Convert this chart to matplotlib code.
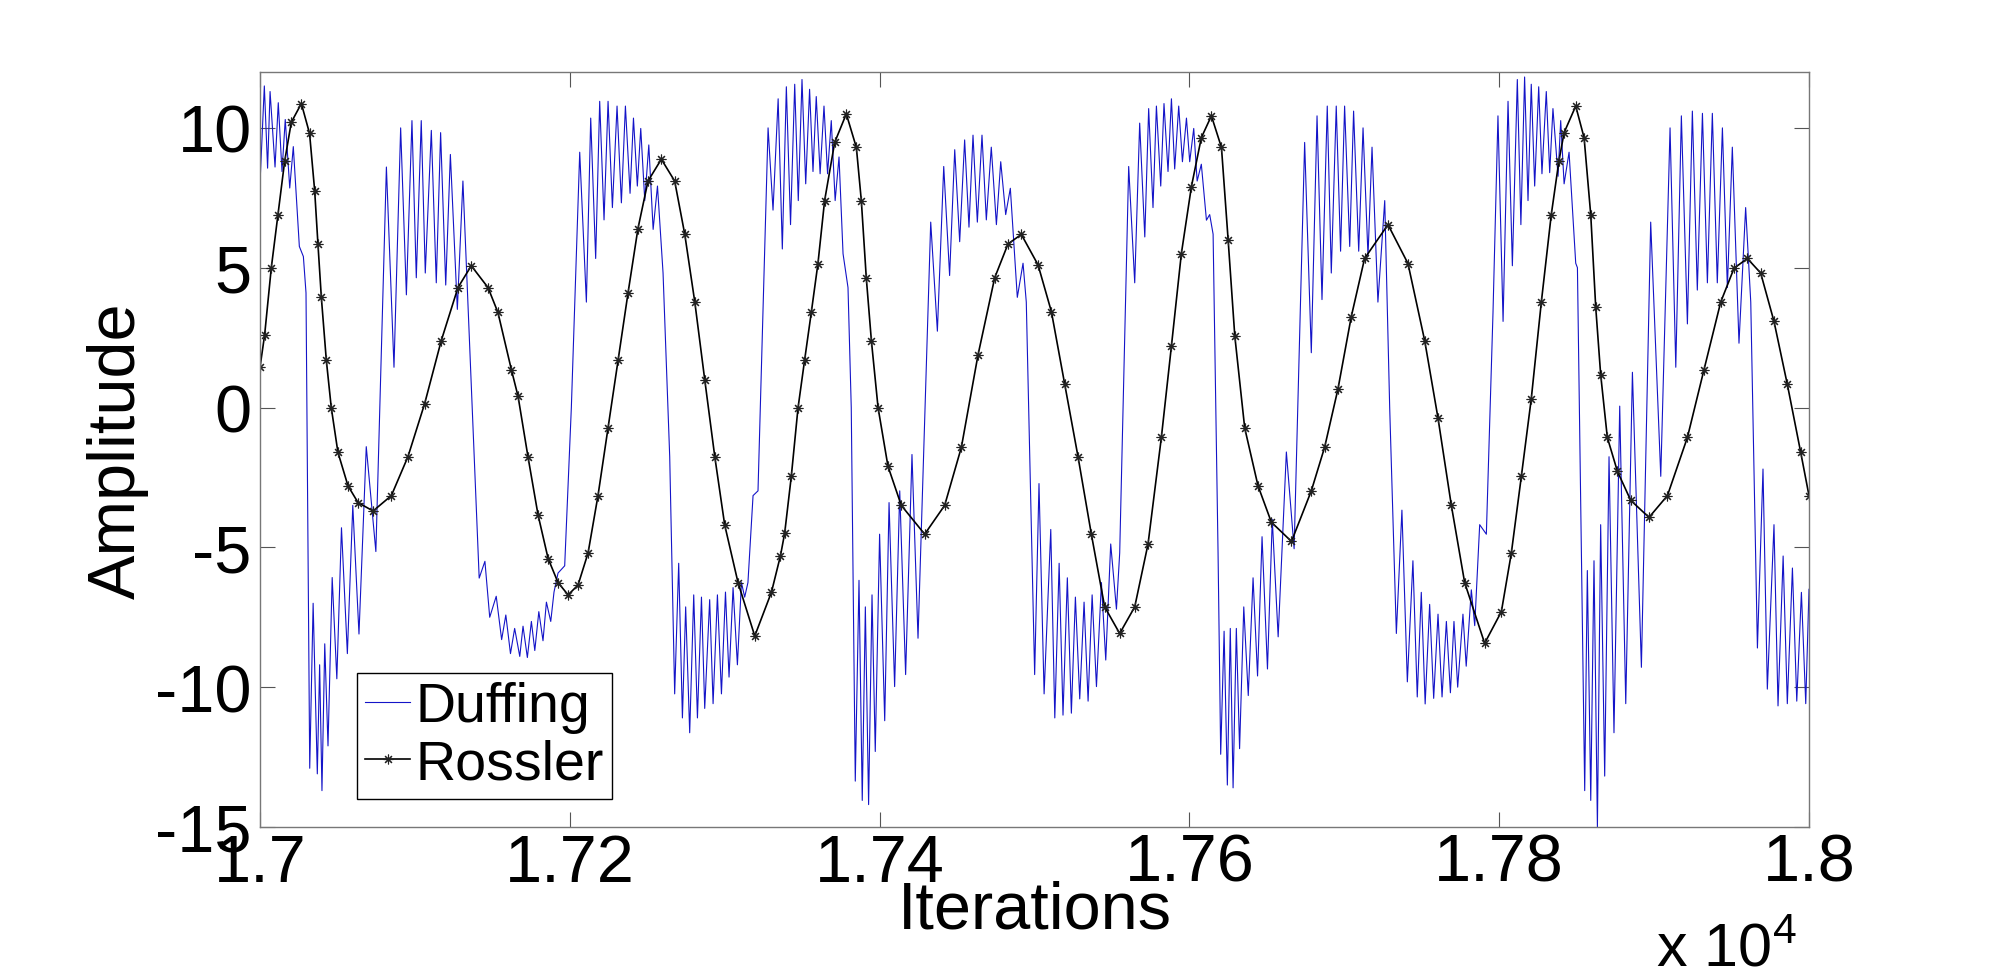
import matplotlib
matplotlib.use('Agg')
import matplotlib.pyplot as plt
from matplotlib.ticker import FuncFormatter
import numpy as np

plt.rcParams['font.family'] = ['Liberation Sans', 'DejaVu Sans']
plt.rcParams['mathtext.fontset'] = 'custom'
plt.rcParams['mathtext.rm'] = 'Liberation Sans'
# matlab style tick labels use a plain hyphen
plt.rcParams['axes.unicode_minus'] = False

# first iteration shown
start_iter = 17000

# Duffing signal (iteration offset, amplitude)
duff_t = [0.2, 2.8, 4.9, 6.5, 9.7, 11.8, 14.2, 16.3, 19.2, 21.5, 25.4, 28.0, 29.7,
          32.1, 34.3, 37.0, 38.5, 40.0, 41.8, 43.9, 46.6, 49.6, 52.6, 56.4, 59.9,
          63.9, 68.6, 74.8, 81.6, 86.5, 90.8, 94.5, 98.1, 100.9, 104.1, 106.7,
          110.6, 113.8, 116.6, 119.9, 122.9, 127.4, 131.0, 141.5, 145.2, 148.3,
          152.5, 156.0, 158.7, 161.7, 164.4, 167.7, 169.8, 172.6, 175.2, 177.4,
          180.0, 182.7, 184.9, 187.7, 189.8, 192.4, 196.7, 201.0, 206.4, 210.7,
          213.5, 216.7, 219.3, 222.1, 224.7, 227.5, 230.5, 233.3, 235.9, 238.9,
          241.1, 243.6, 245.8, 248.4, 251.0, 253.8, 256.6, 260.2, 264.5, 267.7,
          270.3, 272.7, 274.8, 277.4, 280.0, 282.4, 285.0, 287.1, 290.3, 292.5,
          295.3, 297.9, 300.5, 302.8, 305.4, 308.2, 310.8, 312.9, 315.0, 318.3,
          321.5, 328.0, 331.2, 334.5, 337.2, 339.8, 342.5, 345.2, 347.5, 349.9,
          352.3, 354.8, 357.0, 359.1, 361.6, 364.1, 366.4, 368.8, 371.3, 373.8,
          376.4, 379.6, 381.7, 384.3, 386.7, 388.8, 390.8, 392.9, 395.1, 397.2,
          400.0, 403.3, 406.1, 409.7, 413.0, 416.8, 420.9, 424.8, 433.0, 437.3,
          441.4, 445.2, 448.5, 451.7, 454.9, 457.7, 460.3, 463.1, 466.1, 468.9,
          472.1, 475.4, 478.2, 481.4, 484.4, 488.9, 492.6, 494.7, 498.0, 500.1,
          502.9, 506.2, 510.5, 513.1, 515.9, 518.4, 521.2, 523.8, 526.4, 529.2,
          532.0, 534.6, 537.2, 540.0, 543.2, 546.0, 549.2, 552.9, 555.0, 560.8,
          564.7, 567.9, 571.2, 573.7, 576.5, 578.7, 581.5, 583.6, 586.2, 588.4,
          590.5, 593.1, 595.5, 598.1, 600.2, 602.8, 605.0, 607.7, 611.0, 613.1,
          615.3, 618.5, 620.2, 622.4, 624.5, 626.4, 628.2, 630.3, 632.4, 635.1,
          638.0, 641.1, 644.0, 646.9, 650.4, 653.5, 657.3, 662.6, 667.6, 674.4,
          678.7, 682.4, 685.6, 689.0, 691.6, 694.8, 697.6, 700.2, 703.5, 706.0,
          709.3, 712.1, 715.3, 717.9, 721.7, 726.1, 729.3, 733.6, 737.2, 740.7,
          744.3, 747.1, 749.7, 752.2, 755.1, 757.7, 760.5, 763.1, 765.9, 768.5,
          770.8, 773.2, 776.6, 778.7, 782.0, 784.2, 787.4, 791.7, 796.0, 799.2,
          802.5, 805.7, 808.5, 811.7, 814.0, 816.4, 818.6, 820.7, 822.9, 825.5,
          827.6, 830.4, 832.6, 834.7, 838.0, 839.7, 841.9, 845.1, 849.4, 850.5,
          855.2, 856.9, 859.1, 861.2, 863.4, 865.5, 868.1, 870.9, 874.1, 877.8,
          881.7, 886.0, 891.8, 897.8, 904.3, 910.3, 914.0, 917.6, 921.5, 924.7,
          927.9, 931.2, 934.4, 937.6, 940.8, 944.1, 947.3, 950.5, 954.8, 959.1,
          962.4, 966.7, 970.3, 973.1, 977.4, 980.0, 983.3, 986.0, 989.3, 992.1,
          995.1, 997.9, 1000.0]
duff_v = [8.26, 11.5, 8.56, 11.3, 8.6, 10.9, 8.44, 10.3, 7.85, 9.33, 5.76, 5.4, 4.1,
          -12.9, -7.0, -13.1, -9.2, -13.7, -8.45, -12.1, -6.08, -9.7, -4.3, -8.8, -3.5,
          -8.1, -1.4, -5.15, 8.6, 1.44, 10.0, 4.03, 10.26, 4.64, 10.26, 4.81,
          9.91, 4.46, 9.83, 4.38, 9.05, 3.51, 8.1, -6.1, -5.5, -7.5,
          -6.75, -8.3, -7.42, -8.8, -7.9, -8.9, -7.82, -8.94, -7.65, -8.69,
          -7.3, -8.34, -6.96, -7.65, -6.6, -5.92, -5.66, 0.0, 9.13, 3.77,
          10.35, 5.33, 10.95, 6.71, 10.95, 7.15, 10.78, 7.32, 10.78, 7.66,
          10.35, 7.92, 9.98, 7.4, 9.39, 6.37, 7.92, 4.81, -1.76, -10.24,
          -5.57, -11.1, -7.13, -11.63, -6.7, -11.1, -6.78, -10.76, -6.87, -10.59,
          -6.7, -10.24, -6.6, -9.64, -6.44, -9.2, -6.26, -6.78, -6.26, -3.15,
          -2.98, 10.0, 7.06, 11.04, 5.67, 11.47, 6.54, 11.56, 7.4, 11.73,
          8.0, 11.38, 8.44, 11.12, 8.36, 10.78, 8.36, 10.26, 7.4, 8.96,
          5.5, 4.29, 0.0, -13.36, -6.18, -14.05, -7.13, -14.2, -6.7, -12.3,
          -4.53, -11.2, -3.4, -9.98, -2.98, -9.55, -1.68, -8.25, 6.63, 2.73,
          8.62, 4.72, 9.22, 5.93, 9.57, 6.45, 9.74, 6.63, 9.74, 6.71,
          9.31, 6.54, 8.79, 6.9, 7.84, 3.94, 5.16, 3.77, -4.36, -9.55,
          -2.72, -10.24, -4.36, -11.1, -5.57, -11.0, -6.09, -10.93, -6.78, -10.42,
          -6.96, -10.5, -6.7, -9.98, -6.26, -9.03, -4.88, -7.21, -5.2, 8.62,
          4.46, 10.17, 6.1, 10.69, 7.15, 10.78, 7.92, 10.87, 8.44, 11.04,
          8.53, 10.78, 8.79, 10.35, 8.79, 9.98, 8.1, 8.7, 6.7, 6.9,
          6.2, -5.2, -12.4, -8.0, -13.5, -7.9, -13.6, -7.9, -12.2, -7.13,
          -10.3, -6.09, -9.6, -4.62, -9.35, -4.0, -8.2, -1.59, -5.05, 9.48,
          1.96, 10.43, 3.86, 10.78, 4.81, 10.78, 5.59, 10.78, 5.76, 10.6,
          5.59, 10.0, 5.42, 9.31, 3.77, 7.4, 0.0, -8.08, -3.67, -9.81,
          -5.48, -10.35, -6.61, -10.6, -7.04, -10.4, -7.39, -10.35, -7.65, -10.2,
          -7.65, -10.0, -7.39, -9.25, -6.52, -7.8, -4.19, -4.53, 3.4, 10.43,
          3.08, 10.95, 5.07, 11.73, 6.54, 11.82, 7.4, 11.56, 7.92, 11.47,
          8.36, 11.3, 8.4, 10.69, 8.27, 10.26, 8.0, 9.13, 5.16, 5.0,
          -13.7, -5.83, -14.05, -5.48, -15.0, -4.19, -13.18, -1.76, -11.63, 0.05,
          -10.59, 1.26, -9.29, 6.63, -2.46, 10.0, 1.44, 10.43, 2.99, 10.6,
          4.2, 10.52, 4.46, 10.52, 4.46, 10.0, 4.29, 9.31, 2.3, 7.15,
          3.77, -8.6, -2.2, -10.07, -4.19, -10.67, -5.31, -10.59, -5.74, -10.5,
          -6.61, -10.59, -6.5]

# Rossler signal (iteration offset, amplitude)
ross_t = [0, 3, 7.3, 11.6, 15.9, 20.2, 26.7, 32, 35.3, 37.4, 39.6, 42.8, 46, 50.3,
          56.8, 63.3, 73, 84.8, 95.5, 106.3, 117, 127.8, 136.4, 147.2, 153.6, 162.3,
          166.6, 173, 179.5, 186, 192.4, 198.9, 205.3, 211.8, 218.2, 224.7, 231.2,
          237.6, 244, 250.5, 259.1, 267.7, 274.2, 280.7, 287.1, 293.6, 300, 308.6,
          319.4, 330.2, 336, 338.7, 343, 347.3, 351.6, 355.9, 360.2, 364.5, 371,
          378.5, 385, 388.2, 391.4, 394.7, 399, 405.4, 414, 429.1, 442, 452.8,
          463.5, 474.3, 482.9, 491.5, 502.3, 510.9, 519.5, 528.1, 536.7, 545.3,
          555, 564.7, 573.3, 581.9, 588.4, 594.8, 601.3, 607.7, 614.2, 620.7, 625,
          629.3, 635.7, 644.3, 652.9, 665.9, 678.7, 687.3, 695.9, 704.5, 713.1,
          728.2, 741.1, 751.9, 760.5, 769.1, 777.7, 790.6, 801.4, 807.8, 814.3,
          820.7, 827.2, 833.6, 838.5, 841.9, 849.4, 854.8, 859.1, 862.3, 865.5,
          869.8, 876.3, 884.9, 896.7, 908.6, 921.5, 932.2, 943, 951.6, 960.2,
          968.8, 977.4, 986, 994.6, 1000]
ross_v = [1.44, 2.6, 5.0, 6.9, 8.8, 10.2, 10.87, 9.8, 7.75, 5.85, 3.94, 1.7, 0.0, -1.6,
          -2.8, -3.4, -3.7, -3.15, -1.76, 0.14, 2.39, 4.29, 5.07, 4.29, 3.4, 1.35,
          0.4, -1.76, -3.84, -5.4, -6.26, -6.7, -6.35, -5.2, -3.15, -0.73, 1.7,
          4.1, 6.4, 8.1, 8.88, 8.1, 6.2, 3.77, 1.0, -1.76, -4.2, -6.26,
          -8.17, -6.6, -5.3, -4.5, -2.46, -0.03, 1.7, 3.4, 5.15, 7.4, 9.48,
          10.5, 9.3, 7.4, 4.64, 2.39, 0.0, -2.1, -3.5, -4.53, -3.5, -1.42,
          1.87, 4.64, 5.85, 6.19, 5.1, 3.43, 0.83, -1.76, -4.53, -7.13,
          -8.08, -7.13, -4.88, -1.07, 2.2, 5.5, 7.9, 9.65, 10.43, 9.3, 6.0,
          2.56, -0.73, -2.8, -4.1, -4.79, -2.98, -1.42, 0.66, 3.25, 5.33,
          6.54, 5.15, 2.39, -0.38, -3.5, -6.26, -8.43, -7.3, -5.22, -2.46,
          0.31, 3.77, 6.89, 8.8, 9.83, 10.78, 9.65, 6.89, 3.6, 1.18,
          -1.07, -2.28, -3.32, -3.93, -3.15, -1.07, 1.35, 3.77, 4.98, 5.33,
          4.81, 3.08, 0.83, -1.59, -3.15]

x_ticks = [17000, 17200, 17400, 17600, 17800, 18000]
y_ticks = [-15, -10, -5, 0, 5, 10]

fig = plt.figure(figsize=(20, 9.78), dpi=100)
ax = fig.add_axes([0.13, 0.1534, 0.7745, 0.772])

ax.plot(start_iter + np.array(duff_t), duff_v, color='#1414c8', lw=0.8, label='Duffing')
ax.plot(start_iter + np.array(ross_t), ross_v, color='black', lw=1.2,
        marker=(8, 2, 0), markersize=7, markeredgewidth=0.8,
        markeredgecolor='#222222', label='Rossler')

ax.set_xlim(17000, 18000)
ax.set_ylim(-15, 12)
ax.set_xticks(x_ticks)
ax.set_yticks(y_ticks)
# ticks shown in units of 10^4, like matlab does
ax.xaxis.set_major_formatter(FuncFormatter(lambda v, p: '%g' % (v / 1e4)))

ax.tick_params(direction='in', top=True, right=True, length=11, width=0.8,
               color='#555555', labelsize=48)
ax.tick_params(axis='x', pad=4)
ax.tick_params(axis='y', pad=6)
for s in ax.spines.values():
    s.set_color('#777777')
    s.set_linewidth(1.0)

ax.set_xlabel('Iterations', fontsize=48)
ax.set_ylabel('Amplitude', fontsize=48)
ax.xaxis.set_label_coords(0.5, -0.07)
ax.yaxis.set_label_coords(-0.072, 0.5)

# the x 10^4 multiplier at the bottom right
fig.text(0.828, 0.012, r'x $10^{4}$', fontsize=44, ha='left', va='baseline')

leg = ax.legend(loc='lower left', bbox_to_anchor=(0.0626, 0.037), borderaxespad=0,
                fontsize=40, fancybox=False, framealpha=1, edgecolor='black',
                handlelength=0.8, handletextpad=0.1, borderpad=0.15,
                labelspacing=0.1)
leg.get_frame().set_linewidth(1.0)

plt.savefig('out.png', dpi=100)
